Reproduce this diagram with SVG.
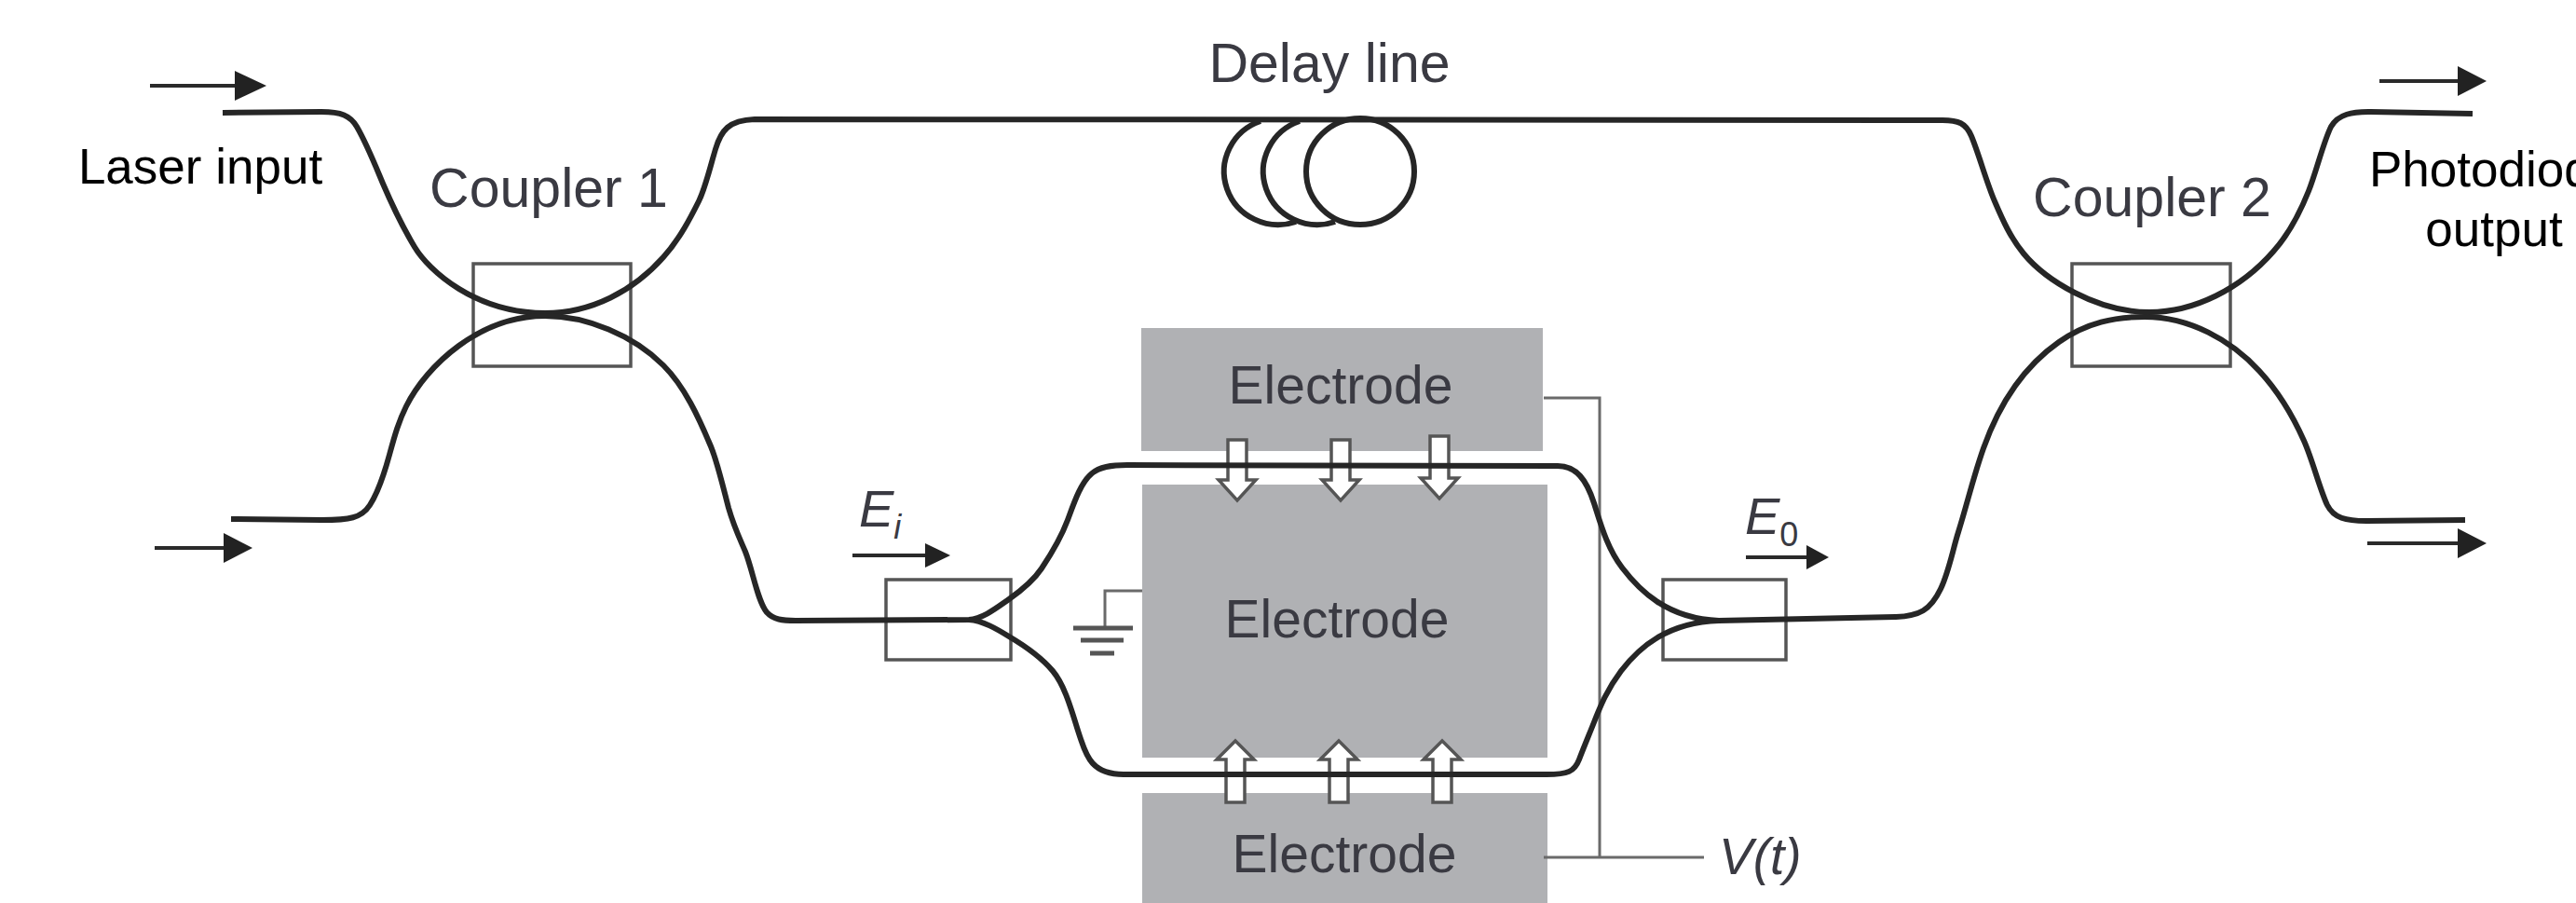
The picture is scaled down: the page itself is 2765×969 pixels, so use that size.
<svg xmlns="http://www.w3.org/2000/svg" width="2765" height="969" viewBox="0 0 2765 969">
<defs>
<style>
.fiber{fill:none;stroke:#262626;stroke-width:6;stroke-linecap:butt;stroke-linejoin:round}
.box{fill:none;stroke:#555;stroke-width:3.5}
.wire{fill:none;stroke:#6a6a6a;stroke-width:3}
.flow{fill:none;stroke:#2a2a2a;stroke-width:4}
.head{fill:#222;stroke:none}
.elec{fill:#b0b1b4}
.field{fill:#fff;stroke:#555;stroke-width:3.5}
.lab{font-family:"Liberation Sans",Arial,sans-serif;font-size:57px;fill:#3a3a42;text-anchor:middle}
.cap{font-family:"Liberation Sans",Arial,sans-serif;font-size:59px;fill:#3a3a42;text-anchor:middle}
.lab2{font-family:"Liberation Sans",Arial,sans-serif;font-size:53px;fill:#000;text-anchor:middle}
.sym{font-family:"Liberation Sans",Arial,sans-serif;font-style:italic;fill:#3a3a42}
</style>
</defs>
<g id="electrode-top"><rect class="elec" x="1225" y="352" width="431" height="132"/><text class="lab" x="1439" y="433">Electrode</text></g>
<g id="electrode-middle"><rect class="elec" x="1226" y="520" width="435" height="293"/><text class="lab" x="1435" y="684">Electrode</text></g>
<g id="electrode-bottom"><rect class="elec" x="1226" y="851" width="435" height="118"/><text class="lab" x="1443" y="936">Electrode</text></g>
<g id="coupler-1"><rect class="box" x="508" y="283" width="169" height="110"/><text class="cap" x="589" y="222">Coupler 1</text></g>
<g id="coupler-2"><rect class="box" x="2224" y="283" width="170" height="110"/><text class="cap" x="2310" y="232">Coupler 2</text></g>
<g id="splitter-in"><rect class="box" x="951" y="622" width="134" height="86"/></g>
<g id="splitter-out"><rect class="box" x="1785" y="622" width="132" height="86"/></g>
<g id="delay-line">
<text class="cap" x="1427" y="88">Delay line</text>
<ellipse class="fiber" cx="1460" cy="184" rx="58" ry="57"/>
<path class="fiber" d="M1395 130A58 57 0 0 0 1433 238"/>
<path class="fiber" d="M1353 130A58 57 0 0 0 1391 238"/>
</g>
<g id="ground">
<path class="wire" d="M1226 634H1186V674"/>
<path d="M1152 674H1216M1160 687H1206M1170 701H1196" fill="none" stroke="#555" stroke-width="5"/>
</g>
<g id="voltage">
<text class="sym" x="1845" y="938" font-size="55">V(t)</text>
</g>
<g id="field-arrows">
<path class="field" d="M1318 472H1338V515H1348L1328 537L1308 515H1318Z"/>
<path class="field" d="M1429 472H1449V515H1459L1439 537L1419 515H1429Z"/>
<path class="field" d="M1535 468H1555V513H1565L1545 535L1525 513H1535Z"/>
<path class="field" d="M1316 861H1336V815H1346L1326 795L1306 815H1316Z"/>
<path class="field" d="M1427 861H1447V815H1457L1437 795L1417 815H1427Z"/>
<path class="field" d="M1538 861H1558V815H1568L1548 795L1528 815H1538Z"/>
</g>
<g id="connectors">
<path class="wire" d="M1657 427H1717V920"/>
<path class="wire" stroke-width="4" d="M1657 920H1829"/>
<path class="fiber" d="M239 121L345 120C366 120 376 124 383 136C394 155 403 178 411 197C420 218 430 240 445 265C460 290 510 336 585 336C635 336 680 312 712 276C730 256 742 232 750 216C757 202 762 180 768 160C774 140 782 129 810 128L2085 129C2102 129 2110 132 2116 146C2124 165 2132 195 2141 216C2150 237 2158 255 2172 272C2195 300 2250 335 2307 335C2355 335 2405 310 2440 270C2458 250 2470 225 2478 205C2486 185 2494 152 2502 136C2510 122 2525 120 2545 120L2654 122"/>
<path class="fiber" d="M248 557L345 558C375 558 388 556 397 542C406 528 412 510 418 488C424 466 428 452 436 436C458 392 515 339 585 339C630 339 680 360 712 392C735 415 750 448 763 479C770 496 776 522 782 545C788 566 795 580 800 592C808 612 813 645 823 657C830 665 840 666 854 666L1040 665C1055 664 1070 652 1083 643C1100 631 1110 622 1118 610C1132 589 1140 574 1146 558C1153 539 1160 518 1172 508C1180 501 1192 499 1210 499L1672 500C1692 500 1703 515 1711 540C1718 562 1725 588 1741 609C1760 634 1790 664 1845 666L2035 662C2060 661 2072 655 2083 632C2092 613 2096 590 2102 571C2112 539 2118 512 2129 481C2145 436 2170 395 2210 367C2240 346 2270 340 2302 340C2350 340 2395 365 2425 398C2450 425 2465 455 2473 473C2482 493 2490 525 2498 542C2505 556 2518 559 2540 559L2646 558"/>
<path class="fiber" d="M1040 665C1055 666 1070 675 1083 683C1105 696 1120 708 1130 720C1145 738 1152 770 1160 793C1166 811 1172 831 1206 831L1660 831C1683 831 1690 828 1695 815C1700 802 1705 790 1711 775C1718 757 1725 740 1740 720C1760 694 1790 668 1845 666"/>
</g>
<g id="flow-arrows">
<path class="flow" d="M161 92H256"/><path class="head" d="M252 76L286 92L252 108Z"/>
<path class="flow" d="M166 588H244"/><path class="head" d="M240 572L271 588L240 604Z"/>
<path class="flow" d="M2554 87H2642"/><path class="head" d="M2638 71L2669 87L2638 103Z"/>
<path class="flow" d="M2541 583H2642"/><path class="head" d="M2638 567L2669 583L2638 599Z"/>
<path class="flow" d="M915 596H997"/><path class="head" d="M993 583L1020 596L993 609Z"/>
<path class="flow" d="M1874 598H1943"/><path class="head" d="M1939 585L1963 598L1939 611Z"/>
</g>
<g id="labels">
<text class="lab2" x="215" y="197">Laser input</text>
<text class="lab2" x="2677" y="200">Photodiode</text>
<text class="lab2" x="2677" y="264">output</text>
<text class="sym" x="922" y="565" font-size="56">E<tspan font-size="36" dy="13">i</tspan></text>
<text class="sym" x="1873" y="573" font-size="56">E<tspan font-size="36" dy="13" font-style="normal">0</tspan></text>
</g>
</svg>
